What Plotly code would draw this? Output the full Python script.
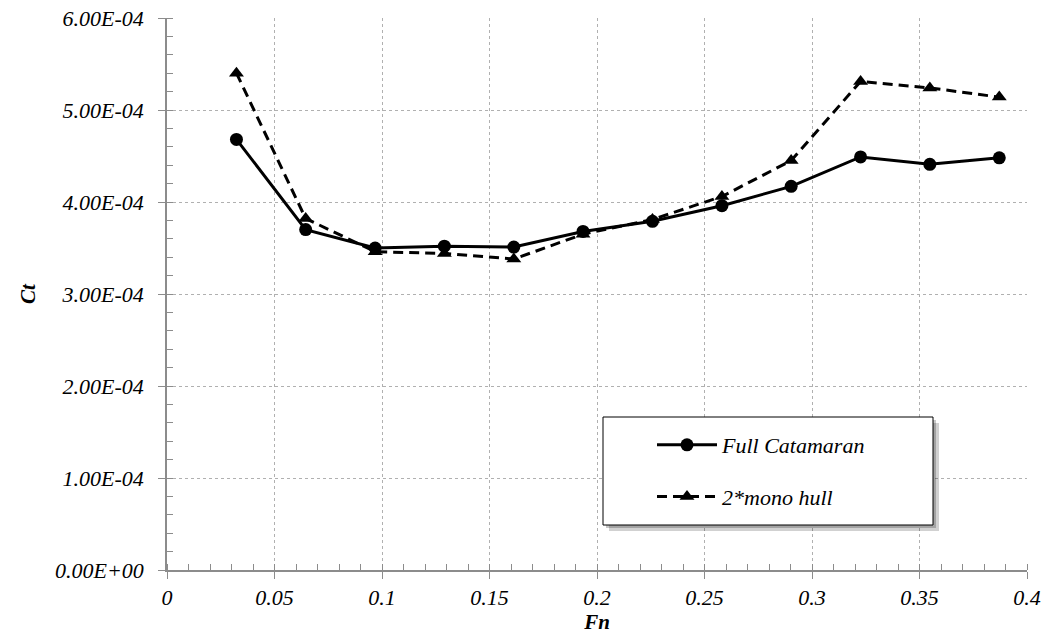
import plotly.graph_objects as go

fn = [0.0323, 0.0645, 0.0968, 0.1290, 0.1613, 0.1935, 0.2258, 0.2581, 0.2903, 0.3226, 0.3548, 0.3871]
ct_full = [4.68e-4, 3.70e-4, 3.50e-4, 3.52e-4, 3.51e-4, 3.68e-4, 3.79e-4, 3.96e-4, 4.17e-4, 4.49e-4, 4.41e-4, 4.48e-4]
ct_mono = [5.40e-4, 3.82e-4, 3.46e-4, 3.44e-4, 3.38e-4, 3.65e-4, 3.81e-4, 4.06e-4, 4.45e-4, 5.31e-4, 5.24e-4, 5.14e-4]

y_ticks = [0, 1e-4, 2e-4, 3e-4, 4e-4, 5e-4, 6e-4]
y_labels = ["0.00E+00", "1.00E-04", "2.00E-04", "3.00E-04", "4.00E-04", "5.00E-04", "6.00E-04"]
x_ticks = [0, 0.05, 0.1, 0.15, 0.2, 0.25, 0.3, 0.35, 0.4]
x_labels = ["0", "0.05", "0.1", "0.15", "0.2", "0.25", "0.3", "0.35", "0.4"]

FONT = "Liberation Serif"

fig = go.Figure()
fig.add_trace(go.Scatter(
    x=fn, y=ct_full, mode="lines+markers", name="<i>Full Catamaran</i>",
    line=dict(color="black", width=3),
    marker=dict(symbol="circle", size=13, color="black"),
    legendgroup="a"))
fig.add_trace(go.Scatter(
    x=fn, y=ct_mono, mode="lines+markers", name="<i>2*mono hull</i>",
    line=dict(color="black", width=3, dash="10px,6px"),
    marker=dict(symbol="triangle-up", size=13, color="black"),
    legendgroup="b"))

L, R, T, B = 167, 21, 18, 64
W, H = 1048, 634
pw, ph = W - L - R, H - T - B

def px_x(p):
    return (p - L) / pw

def px_y(p):
    return 1 - (p - T) / ph

# legend box with shadow
fig.add_shape(type="rect", xref="paper", yref="paper",
              x0=px_x(609), x1=px_x(939), y0=px_y(531), y1=px_y(423),
              fillcolor="rgba(0,0,0,0.18)", line=dict(width=0), layer="above")
fig.add_shape(type="rect", xref="paper", yref="paper",
              x0=px_x(606), x1=px_x(936), y0=px_y(528), y1=px_y(420),
              fillcolor="rgba(0,0,0,0.22)", line=dict(width=0), layer="above")
fig.add_shape(type="rect", xref="paper", yref="paper",
              x0=px_x(603), x1=px_x(933), y0=px_y(525), y1=px_y(417),
              fillcolor="white", line=dict(color="black", width=1), layer="above")

axis_common = dict(
    showline=True, linecolor="#8c8c8c", linewidth=1.5,
    showgrid=True, gridcolor="#b0b0b0", gridwidth=1, griddash="dot",
    zeroline=False, ticks="outside", tickcolor="#8c8c8c", ticklen=7,
    tickfont=dict(family=FONT, size=22, color="black", style="italic"),
    automargin=False,
)

fig.update_layout(
    width=W, height=H,
    margin=dict(l=L, r=R, t=T, b=B),
    paper_bgcolor="white", plot_bgcolor="white",
    font=dict(family=FONT, color="black"),
    xaxis=dict(
        range=[0, 0.4], tickvals=x_ticks, ticktext=x_labels,
        minor=dict(dtick=0.01, ticks="inside", ticklen=6, tickcolor="#8c8c8c", showgrid=False),
        title=dict(text="<b><i>Fn</i></b>", font=dict(family=FONT, size=21), standoff=0),
        ticklabelstandoff=0,
        **axis_common),
    yaxis=dict(
        range=[0, 6e-4], tickvals=y_ticks, ticktext=y_labels,
        minor=dict(dtick=2e-5, ticks="inside", ticklen=6, tickcolor="#8c8c8c", showgrid=False),
        title=dict(text="<b><i>Ct</i></b>", font=dict(family=FONT, size=21), standoff=14),
        ticklabelstandoff=10,
        **axis_common),
    legend=dict(
        x=px_x(652), y=px_y(424), xanchor="left", yanchor="top",
        bgcolor="rgba(0,0,0,0)", borderwidth=0,
        font=dict(family=FONT, size=22, color="black"),
        traceorder="grouped", tracegroupgap=20, itemwidth=60,
    ),
    showlegend=True,
)

fig.write_html("out.html")
